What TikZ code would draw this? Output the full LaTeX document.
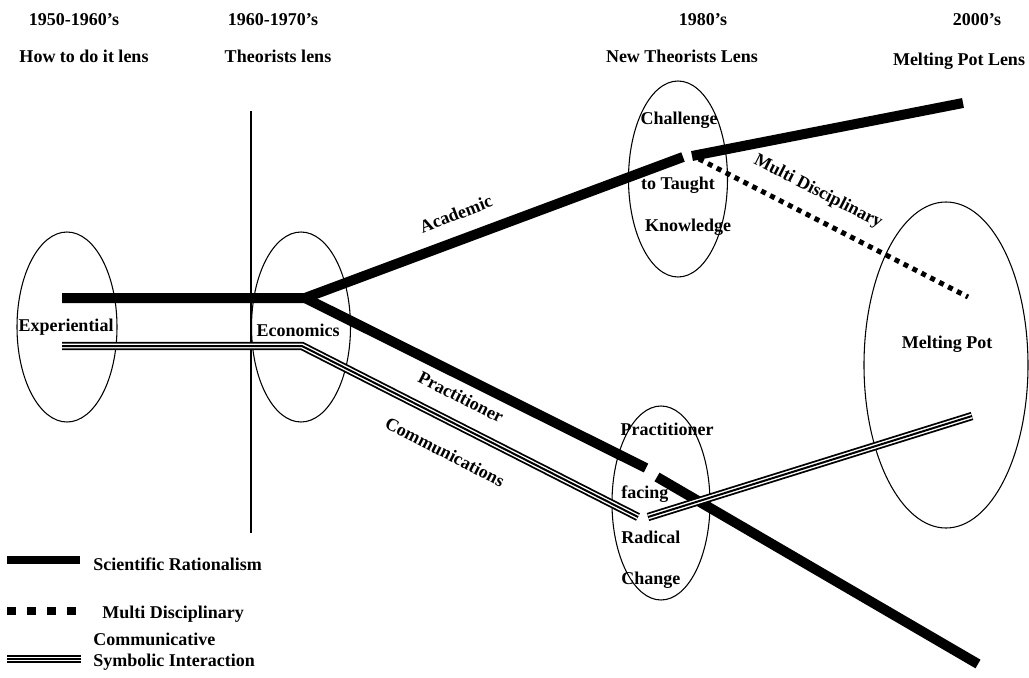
\documentclass[tikz,border=0pt]{standalone}
\usepackage{fontspec}
\setmainfont{Liberation Serif}
\usetikzlibrary{shapes.geometric}
\begin{document}
\begin{tikzpicture}[x=0.75pt,y=-0.75pt,
  lbl/.style={font=\bfseries\fontsize{13.5}{16}\selectfont, inner sep=0pt},
  lens/.style={draw, ellipse, line width=0.8pt, inner sep=0pt},
  sci/.style={line width=7.5pt, line cap=butt, line join=miter},
  multi/.style={line width=3.75pt, dash pattern=on 3.75pt off 3.75pt},
  comm/.style={line width=1.5pt, line join=miter,
    preaction={draw=white, line width=3.6pt, line join=miter,
      preaction={draw=black, line width=6.3pt, line join=miter}}},
]
\useasboundingbox (0,0) rectangle (1029,678);

% era headings
\node[lbl] (y1) at (74,20) {1950-1960’s};
\node[lbl] (l1) at (84,56) {How to do it lens};
\node[lbl] (y2) at (273,20) {1960-1970’s};
\node[lbl] (l2) at (278,56) {Theorists lens};
\node[lbl] (y3) at (703,20) {1980’s};
\node[lbl] (l3) at (682,56) {New Theorists Lens};
\node[lbl] (y4) at (977,20) {2000’s};
\node[lbl] (l4) at (959,61) {Melting Pot Lens};

% divider between the first two eras
\coordinate (divTop) at (251,111);
\coordinate (divBot) at (251,533);
\draw[line width=0.8pt] (divTop) -- (divBot);

% lenses
\node[lens, minimum width=75pt, minimum height=142.5pt] (expE) at (67,327) {};
\node[lens, minimum width=74.25pt, minimum height=142.5pt] (ecoE) at (301,327) {};
\node[lens, minimum width=74.25pt, minimum height=147pt] (chalE) at (678,179) {};
\node[lens, minimum width=73.5pt, minimum height=145.5pt] (pracE) at (661,503) {};
\node[lens, minimum width=123pt, minimum height=244.5pt] (meltE) at (946,365) {};

% path points
\coordinate (sStart) at (62,298);
\coordinate (fork) at (305,298);
\coordinate (acadEnd) at (683,157);
\coordinate (acadRe) at (692,156);
\coordinate (topEnd) at (963,103);
\coordinate (pracEnd) at (646,468);
\coordinate (pracRe) at (657,477);
\coordinate (botEnd) at (978,664);
\coordinate (mStart) at (699,159);
\coordinate (mEnd) at (968,297);
\coordinate (cStart) at (62,346);
\coordinate (cBend) at (302,346);
\coordinate (cEnd) at (638,517);
\coordinate (cRe) at (648,517);
\coordinate (cTop) at (972,416);

% scientific rationalism
\draw[sci] (sStart) -- (fork) -- (acadEnd);
\draw[sci] (acadRe) -- (topEnd);
\draw[sci] (fork) -- (pracEnd);
\draw[sci] (pracRe) -- (botEnd);

% multi disciplinary
\draw[multi] (mStart) -- (mEnd);

% communicative / symbolic interaction
\draw[comm] (cStart) -- (cBend) -- (cEnd);
\draw[comm] (cRe) -- (cTop);

% lens texts
\node[lbl] (tExp) at (66,327) {Experiential};
\node[lbl] (tEco) at (298,330) {Economics};
\node[lbl] (tCh1) at (679,120) {Challenge};
\node[lbl] (tCh2) at (678,185) {to Taught};
\node[lbl] (tCh3) at (688,227) {Knowledge};
\node[lbl] (tPr1) at (667,429) {Practitioner};
\node[lbl, anchor=west] (tPr2) at (621,494) {facing};
\node[lbl, anchor=west] (tPr3) at (621,537) {Radical};
\node[lbl, anchor=west] (tPr4) at (621,580) {Change};
\node[lbl] (tMelt) at (947,344) {Melting Pot};

% branch labels
\node[lbl, rotate=21] (bAcad) at (456,214) {Academic};
\node[lbl, rotate=-27] (bPrac) at (461,397) {Practitioner};
\node[lbl, rotate=-27] (bComm) at (445,452) {Communications};
\node[lbl, rotate=-27] (bMulti) at (818,192) {Multi Disciplinary};

% key
\coordinate (k1a) at (7,560);
\coordinate (k1b) at (80,560);
\draw[line width=6pt] (k1a) -- (k1b);
\node[lbl, anchor=west] (k1) at (93,564) {Scientific Rationalism};
\coordinate (k2a) at (7,611);
\coordinate (k2b) at (80,611);
\draw[line width=6pt, dash pattern=on 6.75pt off 8.25pt] (k2a) -- (k2b);
\node[lbl, anchor=west] (k2) at (102,614) {Multi Disciplinary};
\coordinate (k3a) at (7,659);
\coordinate (k3b) at (81,659);
\draw[comm] (k3a) -- (k3b);
\node[lbl, anchor=west] (k3a) at (93,639) {Communicative};
\node[lbl, anchor=west] (k3b) at (93,662) {Symbolic Interaction};
\end{tikzpicture}
\end{document}
